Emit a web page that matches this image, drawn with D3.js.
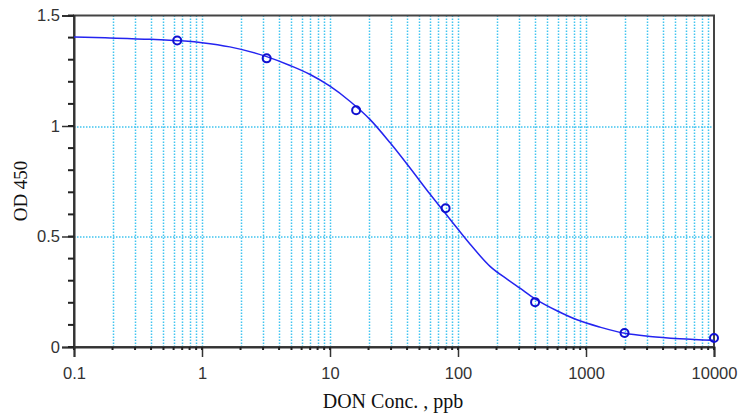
<!DOCTYPE html>
<meta charset="utf-8">
<style>
body { margin: 0; background: #fff; }
</style>
<svg id="svg" width="740" height="414"></svg>
<script src="https://d3js.org/d3.v7.min.js"></script>
<script>
// measured standards (conc in ppb, OD 450)
var stdConc = [0.64, 3.2, 16, 80, 400, 2000, 10000];
var stdOD = [1.387, 1.306, 1.071, 0.628, 0.203, 0.063, 0.041];

// fitted curve
var curveConc = [0.1, 0.175, 0.4, 1, 1.65, 3.2, 4.87, 7, 10, 14.3, 20.5, 29.4, 42.2, 60.4, 86.6, 124, 178, 246, 305, 400, 593, 851, 1285, 2018, 3162, 5420, 10000];
var curveOD = [1.403, 1.399, 1.392, 1.377, 1.358, 1.314, 1.274, 1.233, 1.18, 1.112, 1.03, 0.925, 0.81, 0.692, 0.578, 0.466, 0.365, 0.304, 0.266, 0.218, 0.164, 0.123, 0.090, 0.062, 0.048, 0.0375, 0.030];

var xTicks = [0.1, 1, 10, 100, 1000, 10000];
var yTicks = [0, 0.5, 1, 1.5];
var yGrid = [0.5, 1];

var svg = d3.select("svg"),
    margin = {top: 15.5, right: 26, bottom: 67, left: 74},
    width = +svg.attr("width") - margin.left - margin.right,
    height = +svg.attr("height") - margin.top - margin.bottom;

var g = svg.append("g").attr("transform", "translate(" + margin.left + "," + margin.top + ")");

var x = d3.scaleLog().domain([0.1, 10000]).range([0, width]);
var y = d3.scaleLinear().domain([0, 1.5]).range([height, 0]);

// minor positions 1..9 x 10^k
var minor = [];
for (var k = -1; k < 4; k++) {
    for (var m = 1; m < 10; m++) minor.push(m * Math.pow(10, k));
}
minor.push(10000);
var yMinor = d3.range(0, 16).map(function(i) { return i / 10; });

var gridColor = "#40c4f0";

g.append("g").selectAll("line")
    .data(minor.filter(function(d) { return d > 0.1 && d < 10000; }))
    .enter().append("line")
    .attr("x1", function(d) { return Math.round(x(d)) + 0.5; })
    .attr("x2", function(d) { return Math.round(x(d)) + 0.5; })
    .attr("y1", 0).attr("y2", height)
    .attr("stroke", gridColor)
    .attr("stroke-width", 1.5)
    .attr("stroke-dasharray", "1.5,1.5");

g.append("g").selectAll("line")
    .data(yGrid)
    .enter().append("line")
    .attr("x1", 0).attr("x2", width)
    .attr("y1", function(d) { return Math.round(y(d)) + 0.5; })
    .attr("y2", function(d) { return Math.round(y(d)) + 0.5; })
    .attr("stroke", gridColor)
    .attr("stroke-width", 1.5)
    .attr("stroke-dasharray", "1.5,1.5");

// frame
g.append("rect")
    .attr("x", 0).attr("y", 0)
    .attr("width", width).attr("height", height)
    .attr("fill", "none")
    .attr("stroke", "#444")
    .attr("stroke-width", 2);

// x axis: major then minor ticks
var xAxis = g.append("g").attr("transform", "translate(0," + height + ")");
xAxis.call(d3.axisBottom(x).tickValues(xTicks).tickSize(10).tickPadding(10)
    .tickFormat(function(d) { return d3.format("~g")(d); }));
xAxis.append("g").selectAll("line")
    .data(minor)
    .enter().append("line")
    .attr("x1", function(d) { return x(d); })
    .attr("x2", function(d) { return x(d); })
    .attr("y1", 0).attr("y2", 3)
    .attr("stroke", "#222").attr("stroke-width", 2);

var yAxis = g.append("g");
yAxis.call(d3.axisLeft(y).tickValues(yTicks).tickSize(12).tickPadding(2)
    .tickFormat(function(d) { return d3.format("~g")(d); }));
yAxis.append("g").selectAll("line")
    .data(yMinor)
    .enter().append("line")
    .attr("x1", -6).attr("x2", 0)
    .attr("y1", function(d) { return y(d); })
    .attr("y2", function(d) { return y(d); })
    .attr("stroke", "#222").attr("stroke-width", 2);

svg.selectAll(".domain").attr("stroke", "#333").attr("stroke-width", 2);
svg.selectAll(".tick line").attr("stroke", "#333").attr("stroke-width", 1.5);
svg.selectAll(".tick text")
    .attr("font-family", "Liberation Sans, Arial, sans-serif")
    .attr("font-size", 16.5)
    .attr("fill", "#333");

// fitted curve
var line = d3.line()
    .x(function(d) { return x(d[0]); })
    .y(function(d) { return y(d[1]); })
    .curve(d3.curveMonotoneX);

g.append("path")
    .datum(d3.zip(curveConc, curveOD))
    .attr("fill", "none")
    .attr("stroke", "#2424f0")
    .attr("stroke-width", 1.5)
    .attr("d", line);

g.append("g").selectAll("circle")
    .data(d3.zip(stdConc, stdOD))
    .enter().append("circle")
    .attr("cx", function(d) { return x(d[0]); })
    .attr("cy", function(d) { return y(d[1]); })
    .attr("r", 4)
    .attr("fill", "none")
    .attr("stroke", "#1010d0")
    .attr("stroke-width", 2);

// axis titles
svg.append("text")
    .attr("x", 393).attr("y", 408)
    .attr("text-anchor", "middle")
    .attr("font-family", "Liberation Serif, Times New Roman, serif")
    .attr("font-size", 20)
    .attr("fill", "#111")
    .text("DON Conc. , ppb");

svg.append("text")
    .attr("transform", "translate(27,191) rotate(-90)")
    .attr("text-anchor", "middle")
    .attr("font-family", "Liberation Serif, Times New Roman, serif")
    .attr("font-size", 19)
    .attr("fill", "#111")
    .text("OD 450");
</script>
